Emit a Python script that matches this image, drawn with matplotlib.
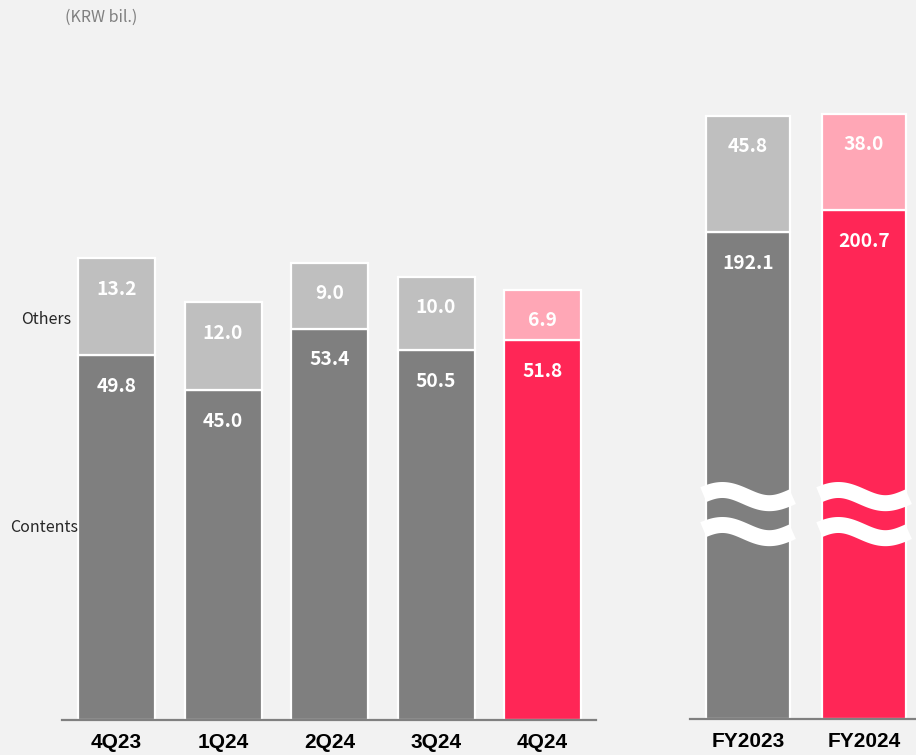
import numpy as np
import matplotlib.pyplot as plt

quarters = ['4Q23', '1Q24', '2Q24', '3Q24', '4Q24']
q_contents = [49.8, 45.0, 53.4, 50.5, 51.8]
q_others = [13.2, 12.0, 9.0, 10.0, 6.9]

years = ['FY2023', 'FY2024']
y_contents = [192.1, 200.7]
y_others = [45.8, 38.0]

BG = '#f2f2f2'
DARK = '#7f7f7f'
LIGHT = '#bfbfbf'
RED = '#ff2656'
PINK = '#ffa7b6'

fig = plt.figure(figsize=(9.16, 7.55), dpi=100, facecolor=BG)
W, H = 916, 755


def make_ax(x0, x1, y_base, y_top):
    ax = fig.add_axes([x0 / W, (H - y_base) / H, (x1 - x0) / W, (y_base - y_top) / H])
    ax.set_facecolor(BG)
    for s in ['top', 'right', 'left']:
        ax.spines[s].set_visible(False)
    ax.spines['bottom'].set_color('#808080')
    ax.spines['bottom'].set_linewidth(1.6)
    ax.set_yticks([])
    ax.tick_params(axis='x', length=0, pad=9.5)
    return ax


def draw(ax, labels, contents, others, c_colors, o_colors, width):
    x = np.arange(len(labels))
    ax.bar(x, contents, width, color=c_colors, edgecolor='white', linewidth=1.6, zorder=2)
    ax.bar(x, others, width, bottom=contents, color=o_colors, edgecolor='white',
           linewidth=1.6, zorder=2)
    for i in range(len(labels)):
        for top, val in [(contents[i], contents[i]), (contents[i] + others[i], others[i])]:
            ax.annotate('{:.1f}'.format(val), (x[i], top), xytext=(0, -22.5),
                        textcoords='offset points', ha='center', va='center',
                        color='white', fontsize=13.8, fontweight='bold',
                        family='Noto Sans CJK KR', zorder=4)
    ax.set_xticks(x)
    ax.set_xticklabels(labels, fontsize=15, fontweight='bold',
                       family='Liberation Sans', color='black')


# quarterly
ax1 = make_ax(62, 596, 720, 60)
ax1.set_ylim(0, 660 / 7.33)
ax1.set_xlim(-0.512, 4.502)
draw(ax1, quarters, q_contents, q_others,
     [DARK] * 4 + [RED], [LIGHT] * 4 + [PINK], 0.723)

# full year
ax2 = make_ax(690, 916, 719, 59)
ax2.set_ylim(0, 660 / 2.536)
ax2.set_xlim(-0.5, 1.448)
draw(ax2, years, y_contents, y_others, [DARK, RED], [LIGHT, PINK], 0.724)

# break marks on the annual bars
t = np.linspace(0, 1, 120)
for xc in range(2):
    xs = xc - 0.385 + 0.77 * t
    for yc in [87.7, 73.9]:
        ys = yc + 2.6 * np.sin(2 * np.pi * t * 0.95 + 0.3)
        ax2.plot(xs, ys, color='white', lw=11.5, solid_capstyle='butt', zorder=3)

fig.text(65 / W, 1 - 17 / H, '(KRW bil.)', color='#808080', fontsize=11.5,
         family='Noto Sans CJK KR', va='center', ha='left')
fig.text(46 / W, 1 - 320 / H, 'Others', color='#262626', fontsize=11.5,
         family='Noto Sans CJK KR', va='center', ha='center')
fig.text(44 / W, 1 - 528 / H, 'Contents', color='#262626', fontsize=11.5,
         family='Noto Sans CJK KR', va='center', ha='center')

plt.savefig('out.png', dpi=100, facecolor=BG)
